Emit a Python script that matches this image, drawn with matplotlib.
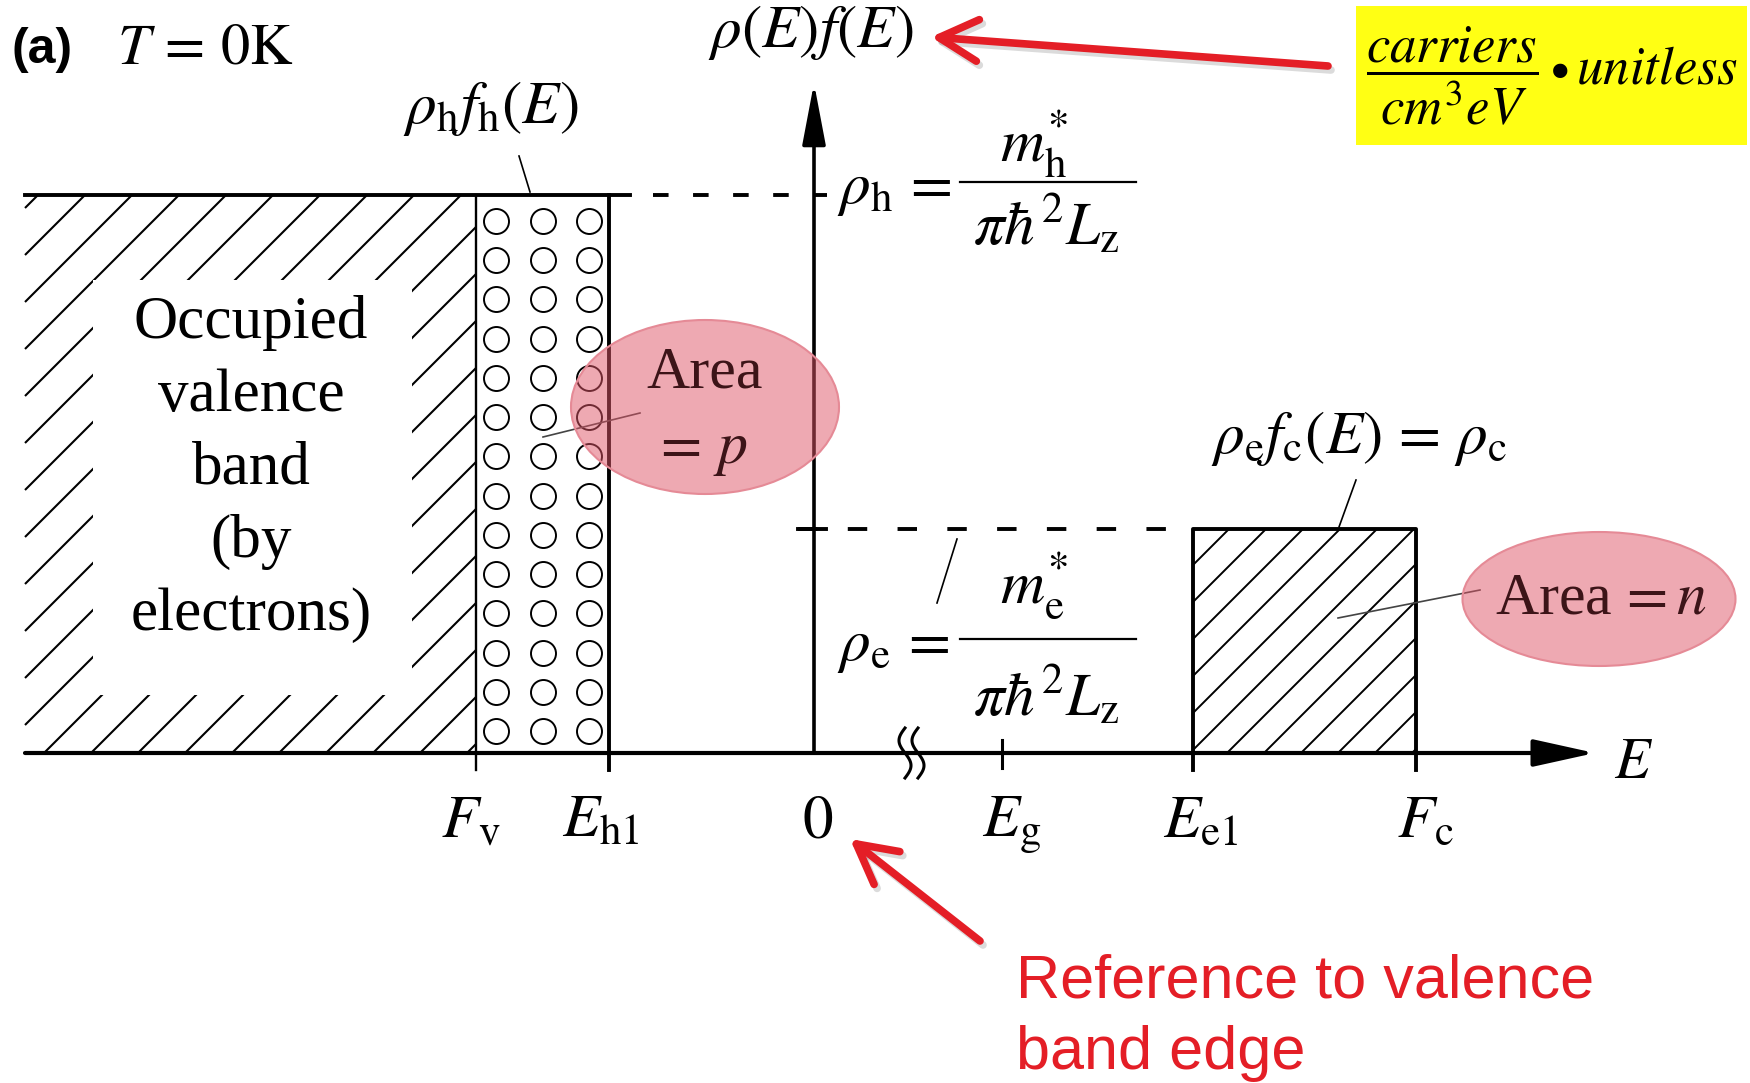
import numpy as np
import matplotlib.pyplot as plt
from matplotlib.patches import Rectangle, Ellipse

plt.rcParams['mathtext.fontset'] = 'stix'
plt.rcParams['font.family'] = ['Liberation Serif', 'DejaVu Serif']

# energy levels on the E axis (arbitrary units, valence band edge at 0)
level_labels = [r'$F_\mathrm{v}$', r'$E_\mathrm{h1}$', r'$0$', r'$E_\mathrm{g}$',
                r'$E_\mathrm{e1}$', r'$F_\mathrm{c}$']
level_pos = [-3.38, -2.05, 0.0, 1.88, 3.79, 6.02]
label_shift = [-0.05, -0.08, 0.04, 0.10, 0.08, 0.10]
E_min, E_max = -7.89, 7.81      # drawn extent of the E axis
break_pos = [0.91, 1.04]        # axis break marks
rho_h = 5.58                    # hole DOS step height
rho_e = 2.24                    # electron DOS step height
rho_top = 6.70                  # top of the rho(E)f(E) axis
n_rows, n_cols = 14, 3          # holes drawn as circles
occupied_lines = ['Occupied', 'valence', 'band', '(by', 'electrons)']

Fv, Eh1, E0, Eg, Ee1, Fc = level_pos
red = '#e41e26'

fig = plt.figure(figsize=(17.5, 10.83), dpi=100)
ax = fig.add_axes([0, 0, 1, 1])
ax.set_xlim(-8.14, 9.36)
ax.set_ylim(-3.30, 7.53)
ax.axis('off')


def hatch(x0, x1, y0, y1, phase, step, lw):
    # 45 degree lines y - y0 = x - c, cut to the box [x0, x1] x [y0, y1]
    h = y1 - y0
    n = int(np.ceil((phase - (x0 - h)) / step)) + 1
    for c in np.arange(phase - n * step, x1 + step, step):
        xa, xb = max(x0, c), min(x1, c + h)
        if xb > xa:
            ax.plot([xa, xb], [y0 + xa - c, y0 + xb - c], color='k', lw=lw,
                    solid_capstyle='butt', zorder=1)


# --- valence band: hatched block, cleared behind the caption
hatch(E_min, Fv, 0, rho_h, -12.87, 0.47, 1.5)
ax.add_patch(Rectangle((-7.21, 0.58), 3.19, 4.15, fc='white', ec='none', zorder=2))
for i, s in enumerate(occupied_lines):
    ax.text(-5.63, 4.30 - 0.73 * i, s, fontsize=44, ha='center', va='center', zorder=3)

# holes between F_v and E_h1
hx = np.linspace(Fv + 0.2, Eh1 - 0.2, n_cols)
hy = np.linspace(0.22, 5.32, n_rows)
HX, HY = np.meshgrid(hx, hy)
ax.plot(HX.ravel(), HY.ravel(), 'o', mfc='none', mec='k', ms=18, mew=1.4, zorder=3)

# top of the hole band and its edges
ax.plot([E_min, Eh1 + 0.21], [rho_h, rho_h], color='k', lw=2.8, zorder=4)
ax.plot([Fv, Fv], [-0.17, rho_h], color='k', lw=1.7, zorder=4)
ax.plot([Eh1, Eh1], [-0.17, rho_h], color='k', lw=2.8, zorder=4)
ax.plot([Eh1 + 0.44, 0.13], [rho_h, rho_h], color='k', lw=2.8,
        linestyle=(0, (4.0, 6.3)), zorder=4)

# --- conduction band: hatched block E_e1..F_c
hatch(Ee1, Fc, 0, rho_e, 4.13, 0.37, 1.4)
ax.plot([Ee1, Ee1, Fc, Fc], [-0.17, rho_e, rho_e, -0.17], color='k', lw=2.8, zorder=4)
ax.plot([-0.16, Ee1], [rho_e, rho_e], color='k', lw=2.8,
        linestyle=(0, (5.0, 7.8)), zorder=4)
ax.plot([-0.16, 0.12], [rho_e, rho_e], color='k', lw=2.8, zorder=4)

# --- axes with arrow heads
ax.annotate('', xy=(E_max, 0), xytext=(E_min, 0), zorder=5,
            arrowprops=dict(arrowstyle='-|>,head_length=1.9,head_width=0.42',
                            mutation_scale=20, lw=3, color='k',
                            shrinkA=0, shrinkB=0))
ax.annotate('', xy=(0, rho_top), xytext=(0, 0), zorder=5,
            arrowprops=dict(arrowstyle='-|>,head_length=1.9,head_width=0.36',
                            mutation_scale=20, lw=2.6, color='k',
                            shrinkA=0, shrinkB=0))
ax.plot([Eg, Eg], [-0.15, 0.13], color='k', lw=2.2, zorder=5)
t = np.linspace(0, 1, 60)
for b in break_pos:
    ax.plot(b - 0.06 * np.sin(2 * np.pi * t), 0.25 - 0.50 * t, color='k', lw=2.2, zorder=5)

# level labels under the axis
for lab, x, dx in zip(level_labels, level_pos, label_shift):
    ax.text(x + dx, -0.84, lab, fontsize=44, ha='center', va='baseline')
ax.text(8.0, -0.11, r'$E$', fontsize=42, ha='left', va='center')

# --- formula labels
ax.text(-8.03, 7.03, '(a)', fontsize=36, fontweight='bold',
        family=['Liberation Sans', 'DejaVu Sans'], ha='left', va='center')
ax.text(-6.97, 7.03, r'$T\,=\,0\mathrm{K}$', fontsize=42, ha='left', va='center')
ax.text(-0.03, 7.20, r'$\rho(E)f(E)$', fontsize=44, ha='center', va='center')
ax.text(-3.23, 6.45, r'$\rho_\mathrm{h}f_\mathrm{h}(E)$', fontsize=44, ha='center', va='center')
ax.plot([-2.95, -2.84], [5.97, 5.61], color='k', lw=1.2)

# rho = m* / (pi hbar^2 L_z), laid out as name, numerator, bar and denominator
for name, num, y_eq, y_bar, y_num, y_den in [
        ('h', r'$m_\mathrm{h}^{*}$', 5.50, 5.71, 5.91, 5.08),
        ('e', r'$m_\mathrm{e}^{*}$', 0.93, 1.14, 1.50, 0.37)]:
    ax.text(0.23, y_eq, r'$\rho_\mathrm{%s}\,=$' % name, fontsize=44, ha='left', va='baseline')
    ax.plot([1.46, 3.22], [y_bar, y_bar], color='k', lw=1.6)
    ax.text(2.20, y_num, num, fontsize=44, ha='center', va='baseline')
    ax.text(2.32, y_den, r'$\pi\hbar^{2}L_\mathrm{z}$', fontsize=44, ha='center', va='baseline')
ax.plot([1.23, 1.43], [1.50, 2.14], color='k', lw=1.2)
ax.text(5.45, 3.14, r'$\rho_\mathrm{e}f_\mathrm{c}(E)\,=\,\rho_\mathrm{c}$', fontsize=44,
        ha='center', va='center')
ax.plot([5.42, 5.25], [2.73, 2.26], color='k', lw=1.2)

# --- highlighted areas
ax.plot([-1.74, -2.71], [3.40, 3.16], color='#444444', lw=1.2, zorder=6)
ax.add_patch(Ellipse((-1.09, 3.46), 2.68, 1.74, fc=(0.87, 0.33, 0.40, 0.5),
                     ec='#e58a96', lw=1.5, zorder=7))
ax.text(-1.09, 3.80, 'Area', fontsize=43, ha='center', va='center', color='#3c1418', zorder=8)
ax.text(-1.14, 3.02, r'$=\,p$', fontsize=43, ha='center', va='center', color='#3c1418', zorder=8)
ax.plot([5.24, 6.66], [1.35, 1.63], color='#444444', lw=1.2, zorder=6)
ax.add_patch(Ellipse((7.85, 1.54), 2.73, 1.34, fc=(0.87, 0.33, 0.40, 0.5),
                     ec='#e58a96', lw=1.5, zorder=7))
ax.text(7.87, 1.54, r'Area$\,=n$', fontsize=43, ha='center', va='center', color='#3c1418', zorder=8)

# --- units box
ax.add_patch(Rectangle((5.42, 6.08), 3.91, 1.39, fc='#ffff14', ec='none', zorder=1))
ax.text(5.52, 6.77, r'$\dfrac{carriers}{cm^{3}eV}\bullet unitless$', fontsize=38,
        ha='left', va='center', zorder=2)

# --- red call-outs
for (x0, y0), (x1, y1) in [((5.14, 6.87), (1.17, 7.16)), ((1.66, -1.88), (0.36, -0.86))]:
    ax.annotate('', xy=(x1 + 0.03, y1 - 0.04), xytext=(x0 + 0.03, y0 - 0.04),
                arrowprops=dict(arrowstyle='->,head_length=1.4,head_width=0.75',
                                mutation_scale=20, lw=5.5, color='#888888', alpha=0.3,
                                shrinkA=0, shrinkB=0))
    ax.annotate('', xy=(x1, y1), xytext=(x0, y0),
                arrowprops=dict(arrowstyle='->,head_length=1.4,head_width=0.75',
                                mutation_scale=20, lw=5.5, color=red,
                                shrinkA=0, shrinkB=0))
ax.text(2.02, -2.44, 'Reference to valence', fontsize=44, color=red,
        family=['Liberation Sans', 'DejaVu Sans'], ha='left', va='baseline')
ax.text(2.02, -3.16, 'band edge', fontsize=44, color=red,
        family=['Liberation Sans', 'DejaVu Sans'], ha='left', va='baseline')

fig.savefig('out.png', dpi=100)
